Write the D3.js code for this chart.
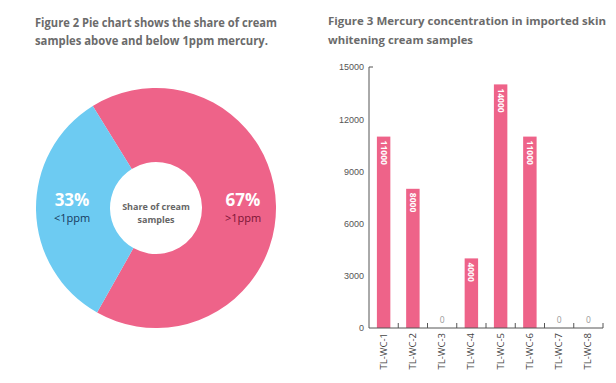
<!DOCTYPE html>
<html>
<head>
<meta charset="utf-8">
<script src="https://cdn.jsdelivr.net/npm/d3@7"></script>
<style>
  body { margin: 0; background: #fff; }
  svg { display: block; font-family: "Open Sans", sans-serif; }
  .title { font-size: 12px; font-weight: 700; fill: #6b6b6b; }
  .axis text { font-size: 9px; fill: #555; }
  .axis path, .axis line { stroke: #555; }
</style>
</head>
<body>
<div id="chart"></div>
<script>
// pie data
var shareLabels = [">1ppm", "<1ppm"];
var shareValues = [67, 33];
var shareColors = ["#ee6389", "#6dcbf2"];
var shareTextColors = ["#7a1435", "#163a5e"];

// bar data
var samples = ["TL-WC-1", "TL-WC-2", "TL-WC-3", "TL-WC-4", "TL-WC-5", "TL-WC-6", "TL-WC-7", "TL-WC-8"];
var mercury = [11000, 8000, 0, 4000, 14000, 11000, 0, 0];
var yTicks = [0, 3000, 6000, 9000, 12000, 15000];

var svg = d3.select("#chart").append("svg")
    .attr("width", 616)
    .attr("height", 383);

// titles, squeezed to the width they take in the original
var leftTitle = ["Figure 2 Pie chart shows the share of cream", "samples above and below 1ppm mercury."];
var rightTitle = ["Figure 3 Mercury concentration in imported skin", "whitening cream samples"];
var leftW = [242, 233], rightW = [278, 145];

svg.selectAll(".lt").data(leftTitle).enter().append("text")
    .attr("class", "title")
    .attr("x", 35)
    .attr("y", function(d, i) { return 27 + i * 18; })
    .attr("textLength", function(d, i) { return leftW[i]; })
    .attr("lengthAdjust", "spacingAndGlyphs")
    .text(function(d) { return d; });

svg.selectAll(".rt").data(rightTitle).enter().append("text")
    .attr("class", "title")
    .attr("x", 328)
    .attr("y", function(d, i) { return 25 + i * 19; })
    .style("font-size", "11px")
    .attr("textLength", function(d, i) { return rightW[i]; })
    .attr("lengthAdjust", "spacingAndGlyphs")
    .text(function(d) { return d; });

// ---- donut ----
var cx = 156, cy = 208;
var pie = d3.pie().sort(null)
    .startAngle(-0.555)
    .endAngle(-0.555 + 2 * Math.PI);
var arc = d3.arc().innerRadius(46).outerRadius(120);

var pg = svg.append("g").attr("transform", "translate(" + cx + "," + cy + ")");
var arcs = pie(shareValues);

pg.selectAll("path").data(arcs).enter().append("path")
    .attr("d", arc)
    .attr("fill", function(d, i) { return shareColors[i]; });

// percentage labels sit in the ring
arcs.forEach(function(d, i) {
  var lx = i === 0 ? 87 : -84;
  pg.append("text")
      .attr("x", lx).attr("y", -2)
      .attr("text-anchor", "middle")
      .style("font-size", "17px").style("font-weight", 700).style("fill", "#fff")
      .text(Math.round(shareValues[i]) + "%");
  pg.append("text")
      .attr("x", lx).attr("y", 14)
      .attr("text-anchor", "middle")
      .style("font-size", "11px").style("fill", shareTextColors[i])
      .text(shareLabels[i]);
});

pg.append("text").attr("text-anchor", "middle").attr("y", 2)
    .style("font-size", "9px").style("font-weight", 700).style("fill", "#666")
    .text("Share of cream");
pg.append("text").attr("text-anchor", "middle").attr("y", 15)
    .style("font-size", "9px").style("font-weight", 700).style("fill", "#666")
    .text("samples");

// ---- bar chart ----
var x = d3.scaleBand().domain(samples).range([369, 603]).paddingInner(0.54).paddingOuter(0.27);
var y = d3.scaleLinear().domain([0, 15000]).range([328, 67]);

svg.selectAll(".bar").data(mercury).enter().append("rect")
    .attr("class", "bar")
    .attr("x", function(d, i) { return x(samples[i]); })
    .attr("y", function(d) { return y(d); })
    .attr("width", x.bandwidth())
    .attr("height", function(d) { return y(0) - y(d); })
    .attr("fill", "#ee6389");

// value labels
svg.selectAll(".val").data(mercury).enter().append("text")
    .attr("class", "val")
    .attr("transform", function(d, i) {
      var bx = x(samples[i]) + x.bandwidth() / 2;
      if (d === 0) return "translate(" + bx + "," + (y(0) - 5) + ")";
      return "translate(" + (bx - 3) + "," + (y(d) + 4) + ") rotate(90)";
    })
    .attr("text-anchor", "start")
    .attr("dx", function(d) { return d === 0 ? -2.5 : 0; })
    .style("font-size", "8.5px")
    .style("font-weight", function(d) { return d === 0 ? 400 : 700; })
    .style("fill", function(d) { return d === 0 ? "#999" : "#fff"; })
    .text(function(d) { return d; });

// Add the Y Axis
svg.append("g")
    .attr("class", "axis")
    .attr("transform", "translate(369,0)")
    .call(d3.axisLeft(y).tickValues(yTicks).tickSize(0).tickPadding(5).tickFormat(d3.format("d")))
    .call(function(g) { g.select(".domain").attr("d", "M4,67H0V328"); });

// Add the X Axis, ticks between the bands
var xg = svg.append("g")
    .attr("class", "axis")
    .attr("transform", "translate(0,328)");
xg.append("line").attr("x1", 369).attr("x2", 603).attr("stroke", "#555");
xg.selectAll(".sep").data(samples).enter().append("line")
    .attr("x1", function(d) { return x(d) + x.bandwidth() + x.step() * x.paddingInner() / 2; })
    .attr("x2", function(d) { return x(d) + x.bandwidth() + x.step() * x.paddingInner() / 2; })
    .attr("y1", 0).attr("y2", -5)
    .attr("stroke", "#555");
xg.selectAll(".lab").data(samples).enter().append("text")
    .attr("transform", function(d) { return "translate(" + (x(d) + x.bandwidth() / 2 + 3) + ",5) rotate(-90)"; })
    .attr("text-anchor", "end")
    .style("font-size", "9.5px")
    .style("fill", "#444")
    .text(function(d) { return d; });
</script>
</body>
</html>
